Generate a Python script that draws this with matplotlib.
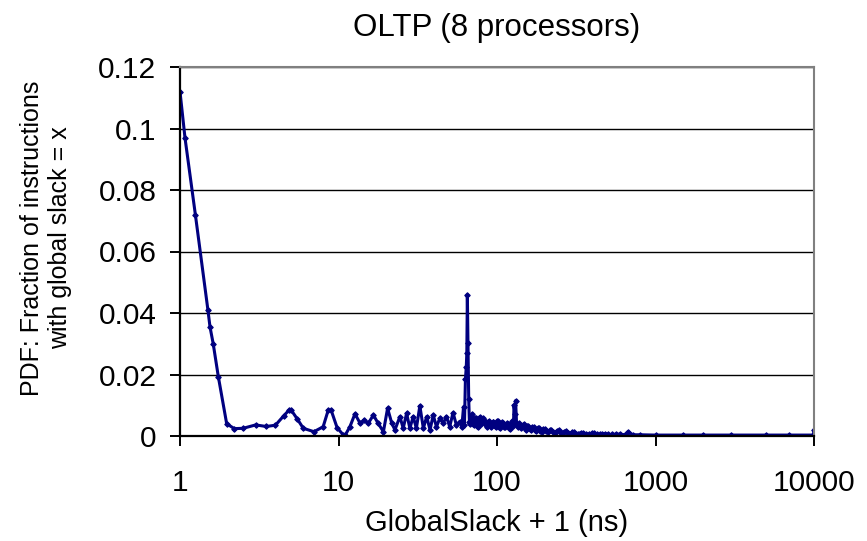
import matplotlib
matplotlib.use("Agg")
import matplotlib.pyplot as plt
from matplotlib.ticker import FixedLocator, FuncFormatter, NullLocator

# GlobalSlack + 1 (ns) and the fraction of instructions at that slack,
# read off the original chart
slack_x = [
    1.0, 1.075, 1.25, 1.5, 1.546, 1.62, 1.745, 1.97, 2.2, 2.5,
    3.0, 3.5, 4.0, 4.5, 4.85, 5.05, 5.5, 6.0, 7.0, 8.0,
    8.6, 9.0, 9.8, 10.7, 11.0, 11.8, 12.7, 13.7, 14.5, 15.4,
    16.6, 17.8, 19.2, 20.4, 21.7, 22.7, 24.4, 25.6, 26.9, 28.2,
    29.6, 31.0, 32.6, 34.3, 36.0, 37.8, 39.6, 41.5, 43.6, 45.7,
    48.0, 50.3, 52.8, 55.4, 58.1, 60.0, 61.5, 62.3, 63.2, 64.0,
    64.5, 65.0, 65.6, 66.3, 67.0, 68.0, 69.0, 70.0, 71.0, 72.0,
    73.0, 74.0, 75.0, 76.0, 77.0, 78.0, 79.0, 80.0, 82.0, 83.0,
    85.0, 86.0, 88.0, 89.0, 91.0, 92.0, 94.0, 95.0, 97.0, 98.0,
    100.0, 101.0, 103.0, 105.0, 107.0, 109.0, 111.0, 113.0, 115.0, 117.0,
    119.0, 121.0, 123.0, 125.0, 127.0, 128.0, 130.0, 131.0, 133.0, 135.0,
    137.0, 140.0, 142.0, 145.0, 147.0, 150.0, 152.0, 155.0, 158.0, 161.0,
    164.0, 167.0, 170.0, 174.0, 177.0, 181.0, 184.0, 188.0, 192.0, 196.0,
    200.0, 205.0, 210.0, 215.0, 220.0, 226.0, 232.0, 238.0, 245.0, 252.0,
    258.0, 265.0, 272.0, 280.0, 288.0, 296.0, 305.0, 315.0, 325.0, 337.0,
    350.0, 365.0, 380.0, 395.0, 410.0, 428.0, 445.0, 462.0, 480.0, 505.0,
    530.0, 565.0, 600.0, 640.0, 670.0, 720.0, 800.0, 1000.0, 1500.0, 2000.0,
    3000.0, 5000.0, 7000.0, 9900.0, 10000.0,
]
pdf_y = [
    0.112, 0.097, 0.072, 0.041, 0.0355, 0.030, 0.0193, 0.0040, 0.0024, 0.0025,
    0.0036, 0.0031, 0.0035, 0.0065, 0.0083, 0.0083, 0.0055, 0.0025, 0.0014, 0.0030,
    0.0083, 0.0083, 0.0027, 0.0004, 0.0002, 0.0030, 0.0072, 0.0041, 0.0052, 0.0041,
    0.0068, 0.0041, 0.0014, 0.0090, 0.0041, 0.0020, 0.0063, 0.0025, 0.0074, 0.0025,
    0.0063, 0.0025, 0.0098, 0.0025, 0.0063, 0.0020, 0.0068, 0.0030, 0.0058, 0.0041,
    0.0063, 0.0030, 0.0076, 0.0036, 0.0047, 0.0030, 0.0095, 0.0035, 0.0184, 0.0225,
    0.0269, 0.0459, 0.0301, 0.0119, 0.0045, 0.0040, 0.0062, 0.0072, 0.0038, 0.0035,
    0.0058, 0.0060, 0.0034, 0.0030, 0.0055, 0.0063, 0.0040, 0.0045, 0.0058, 0.0052,
    0.0036, 0.0030, 0.0044, 0.0050, 0.0032, 0.0028, 0.0047, 0.0045, 0.0031, 0.0030,
    0.0049, 0.0048, 0.0030, 0.0025, 0.0044, 0.0042, 0.0029, 0.0028, 0.0041, 0.0040,
    0.0026, 0.0022, 0.0038, 0.0048, 0.0032, 0.0100, 0.0072, 0.0115, 0.0035, 0.0030,
    0.0042, 0.0033, 0.0025, 0.0036, 0.0038, 0.0026, 0.0020, 0.0031, 0.0033, 0.0022,
    0.0018, 0.0028, 0.0030, 0.0019, 0.0015, 0.0026, 0.0027, 0.0017, 0.0014, 0.0022,
    0.0024, 0.0015, 0.0012, 0.0019, 0.0020, 0.0013, 0.0010, 0.0016, 0.0018, 0.0011,
    0.0009, 0.0014, 0.0016, 0.0010, 0.0008, 0.0012, 0.0013, 0.0008, 0.0007, 0.0011,
    0.0011, 0.0007, 0.0006, 0.0009, 0.0009, 0.0006, 0.0005, 0.0008, 0.0008, 0.0005,
    0.0005, 0.0006, 0.0006, 0.0004, 0.0014, 0.0004, 0.0004, 0.0003, 0.0003, 0.0003,
    0.0003, 0.0003, 0.0003, 0.0003, 0.0018,
]

x_ticks = [1, 10, 100, 1000, 10000]
y_ticks = [0, 0.02, 0.04, 0.06, 0.08, 0.10, 0.12]

plt.rcParams['font.family'] = ['Liberation Sans', 'DejaVu Sans']

fig = plt.figure(figsize=(8.67, 5.41), dpi=100)
ax = fig.add_axes([180 / 867, 105 / 541, 634 / 867, 369 / 541])

ax.plot(slack_x, pdf_y, color='#000080', linewidth=2.2,
        marker='D', markersize=2.8, markeredgewidth=0.8)

ax.set_xscale('log')
ax.set_xlim(1, 10000)
ax.set_ylim(0, 0.12)
ax.xaxis.set_major_locator(FixedLocator(x_ticks))
ax.xaxis.set_minor_locator(NullLocator())
ax.xaxis.set_major_formatter(FuncFormatter(lambda v, p: '%d' % v))
ax.yaxis.set_major_locator(FixedLocator(y_ticks))
ax.yaxis.set_major_formatter(FuncFormatter(lambda v, p: '%g' % v))

ax.yaxis.grid(True, color='black', linewidth=1.0)
ax.set_axisbelow(True)

for side in ('top', 'right'):
    ax.spines[side].set_color('#808080')
    ax.spines[side].set_linewidth(1.5)
for side in ('left', 'bottom'):
    ax.spines[side].set_color('black')
    ax.spines[side].set_linewidth(1.6)

ax.tick_params(axis='y', direction='out', length=7, width=1.4, pad=10, labelsize=21.5)
ax.tick_params(axis='x', direction='out', length=7, width=1.4, pad=17, labelsize=21.5)

fig.text(497 / 867, 1 - 28 / 541, 'OLTP (8 processors)', ha='center', va='center', fontsize=22.5)
fig.text(497 / 867, 1 - 523 / 541, 'GlobalSlack + 1 (ns)', ha='center', va='center', fontsize=21)
fig.text(46 / 867, 1 - 238 / 541, 'PDF: Fraction of instructions\nwith global slack = x',
         ha='center', va='center', rotation=90, multialignment='center', fontsize=18)

fig.savefig('out.png', dpi=100)
